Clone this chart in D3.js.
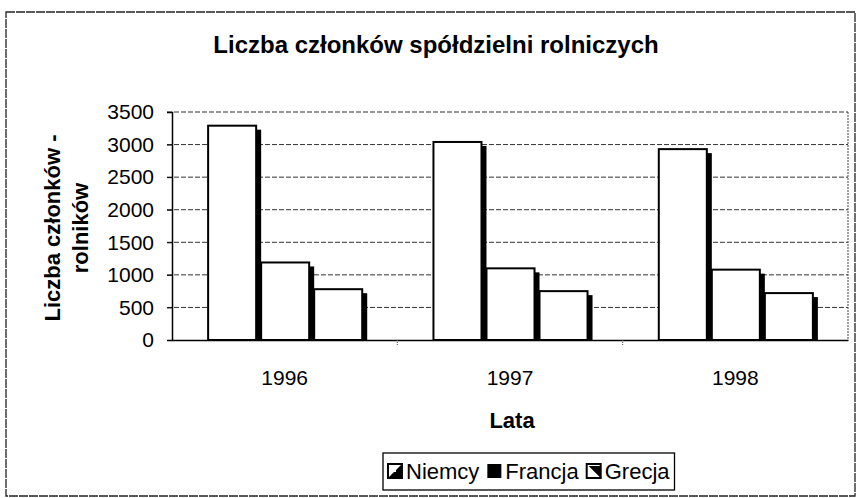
<!DOCTYPE html>
<html>
<head>
<meta charset="utf-8">
<script src="https://cdn.jsdelivr.net/npm/d3@7/dist/d3.min.js"></script>
<style>
  html, body { margin: 0; padding: 0; background: #fff; }
  svg { display: block; font-family: Arial, "Liberation Sans", sans-serif; }
</style>
</head>
<body>
<svg id="chart" width="858" height="498"></svg>
<script>
// ---- data ----
const categories = ["1996", "1997", "1998"];
const seriesNames = ["Niemcy", "Francja", "Grecja"];
const niemcy  = [3290, 3040, 2930];
const francja = [1190, 1100, 1080];
const grecja  = [780, 750, 720];
const yTicks = [0, 500, 1000, 1500, 2000, 2500, 3000, 3500];
const titleText = "Liczba członków spółdzielni rolniczych";
const yTitleLines = ["Liczba członków -", "rolników"];
const xTitleText = "Lata";

const seriesValues = [niemcy, francja, grecja];

// ---- layout ----
const svg = d3.select("#chart");
const plot = { left: 172, right: 848, top: 112, bottom: 340 };
const shadowW = 5, shadowDrop = 4, depthShift = 3;
const gridDash = "5,2";

// outer frame
svg.append("rect")
  .attr("x", 6).attr("y", 12).attr("width", 849).attr("height", 484)
  .attr("fill", "#fff").attr("stroke", "#222").attr("stroke-width", 1.3)
  .attr("stroke-dasharray", "9,1");

const y = d3.scaleLinear().domain([0, 3500]).range([plot.bottom, plot.top]);
const x0 = d3.scaleBand().domain(categories).range([plot.left, plot.right])
  .paddingInner(0.294).paddingOuter(0.147);
const x1 = d3.scaleBand().domain(seriesNames).range([0, x0.bandwidth()]).padding(0);

// gridlines
svg.append("g").selectAll("line").data(yTicks.filter(d => d > 0)).join("line")
  .attr("x1", plot.left - 5).attr("x2", plot.right)
  .attr("y1", d => y(d)).attr("y2", d => y(d))
  .attr("stroke", "#333").attr("stroke-width", 1).attr("stroke-dasharray", gridDash);

// plot area right border
svg.append("line")
  .attr("x1", plot.right).attr("x2", plot.right)
  .attr("y1", plot.top).attr("y2", plot.bottom)
  .attr("stroke", "#444").attr("stroke-width", 1).attr("stroke-dasharray", "2,1");

// y axis
const yAxis = d3.axisLeft(y).tickValues(yTicks).tickSize(5).tickPadding(13)
  .tickFormat(d3.format("d"));
const gy = svg.append("g").attr("transform", `translate(${plot.left},0)`).call(yAxis);
gy.select(".domain").attr("stroke", "#000").attr("stroke-width", 1.5);
gy.selectAll(".tick line").attr("stroke", "#000");
gy.selectAll("text").attr("font-size", 21).attr("fill", "#000")
  .attr("font-family", "Arial, 'Liberation Sans', sans-serif");

// bars
const groups = svg.append("g").selectAll("g").data(categories).join("g")
  .attr("transform", d => `translate(${x0(d) + depthShift},0)`);

groups.each(function(cat, ci) {
  const g = d3.select(this);
  seriesNames.forEach((s, si) => {
    const v = seriesValues[si][ci];
    const bx = x1(s);
    const fw = x1.bandwidth() - shadowW;
    g.append("rect")
      .attr("x", bx + fw).attr("y", y(v) + shadowDrop)
      .attr("width", shadowW).attr("height", y(0) - y(v) - shadowDrop)
      .attr("fill", "#000");
    g.append("rect")
      .attr("x", bx).attr("y", y(v))
      .attr("width", fw).attr("height", y(0) - y(v))
      .attr("fill", "#fff").attr("stroke", "#000").attr("stroke-width", 2);
  });
});

// x axis
const xAxis = d3.axisBottom(x0).tickSize(0).tickPadding(30);
const gx = svg.append("g").attr("transform", `translate(0,${plot.bottom})`).call(xAxis);
gx.select(".domain").attr("stroke", "#000").attr("stroke-width", 1.5);
gx.selectAll("text").attr("font-size", 21).attr("fill", "#000")
  .attr("font-family", "Arial, 'Liberation Sans', sans-serif");
const sep = d3.range(1, categories.length).map(i => plot.left + i * x0.step());
svg.append("g").selectAll("line").data(sep).join("line")
  .attr("x1", d => d).attr("x2", d => d)
  .attr("y1", plot.bottom).attr("y2", plot.bottom + 6)
  .attr("stroke", "#555").attr("stroke-dasharray", "1,1");

// title
svg.append("text").attr("x", 436).attr("y", 53)
  .attr("text-anchor", "middle").attr("font-size", 24).attr("font-weight", "bold")
  .text(titleText);

// y title
const yt = svg.append("text")
  .attr("transform", `translate(52,${(plot.top + plot.bottom) / 2 + 2}) rotate(-90)`)
  .attr("text-anchor", "middle").attr("font-size", 22).attr("font-weight", "bold");
yTitleLines.forEach((t, i) => {
  yt.append("tspan").attr("x", 0).attr("dy", i === 0 ? 8 : 28).text(t);
});

// x title
svg.append("text").attr("x", (plot.left + plot.right) / 2 + 2).attr("y", 428)
  .attr("text-anchor", "middle").attr("font-size", 22).attr("font-weight", "bold")
  .text(xTitleText);

// legend
const leg = svg.append("g");
const legBox = leg.append("rect")
  .attr("x", 383).attr("y", 453).attr("height", 37)
  .attr("fill", "#fff").attr("stroke", "#000").attr("stroke-width", 1.3);
let lx = 388;
const sym = 14, symY = 464;
seriesNames.forEach((s, i) => {
  const sg = leg.append("g").attr("transform", `translate(${lx},${symY})`);
  if (i === 1) {
    sg.append("rect").attr("width", sym).attr("height", sym).attr("fill", "#000");
  } else if (i === 0) {
    sg.append("rect").attr("width", sym).attr("height", sym).attr("fill", "#fff")
      .attr("stroke", "#000").attr("stroke-width", 2);
    sg.append("path").attr("d", `M${sym},0 L${sym},${sym} L0,${sym} Z`).attr("fill", "#000");
    sg.append("rect").attr("x", 3).attr("y", 3).attr("width", 5).attr("height", 5).attr("fill", "#fff");
  } else {
    sg.append("rect").attr("width", sym).attr("height", sym).attr("fill", "#fff")
      .attr("stroke", "#000").attr("stroke-width", 2);
    sg.append("path").attr("d", `M2,2 L${sym},2 L${sym},${sym} Z`).attr("fill", "#000");
  }
  const t = leg.append("text").attr("x", lx + sym + 4).attr("y", 479)
    .attr("font-size", 22).text(s);
  lx += sym + 4 + t.node().getComputedTextLength() + 8;
});
legBox.attr("width", lx - 383 - 3);
</script>
</body>
</html>
